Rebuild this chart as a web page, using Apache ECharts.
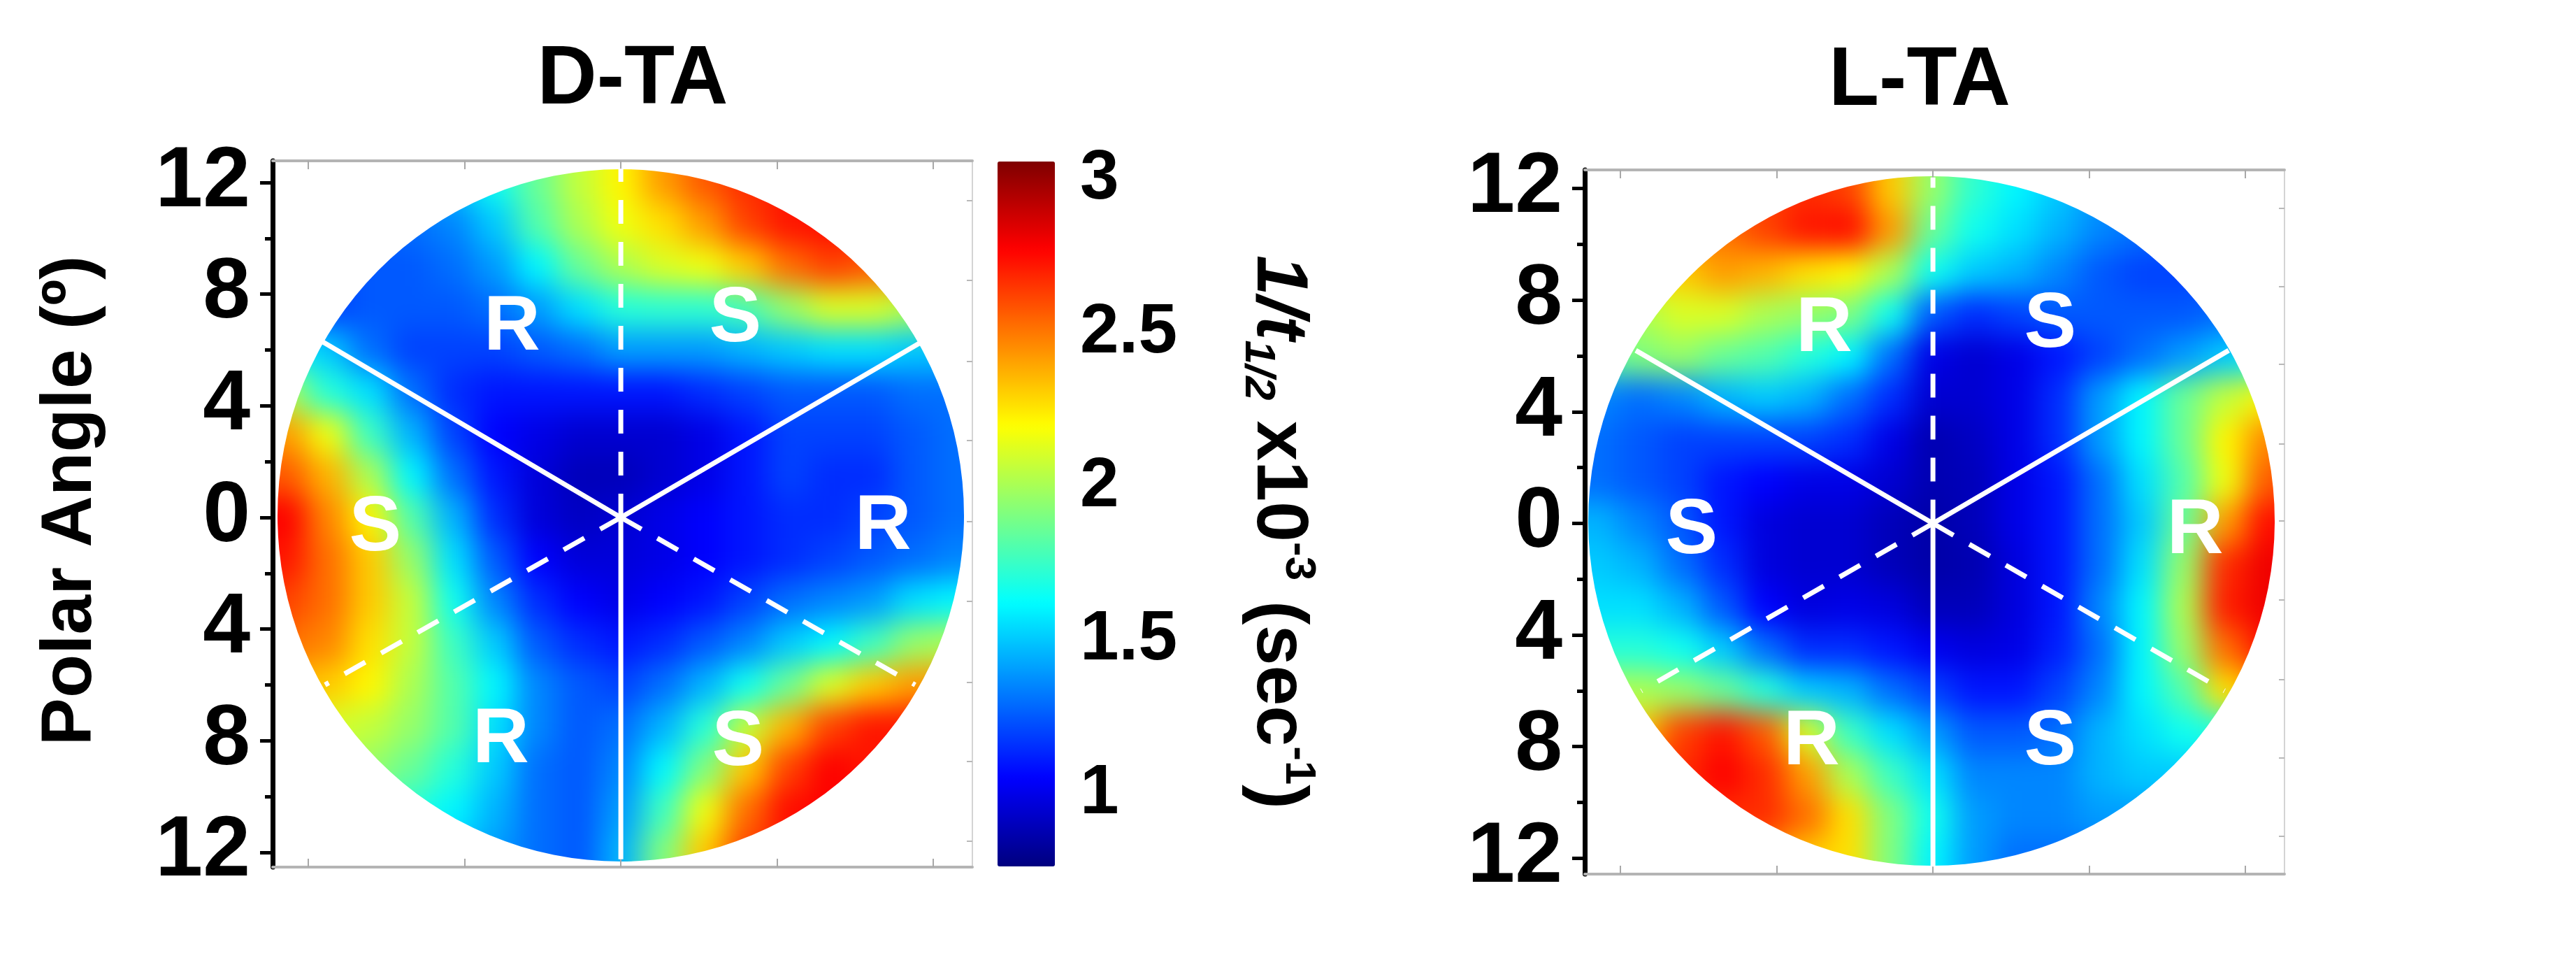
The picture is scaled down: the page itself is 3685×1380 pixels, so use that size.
<!DOCTYPE html>
<html>
<head>
<meta charset="utf-8">
<title>D-TA / L-TA</title>
<script src="https://cdn.jsdelivr.net/npm/echarts@6/dist/echarts.min.js"></script>
<style>
  html, body { margin: 0; background: #fff; }
  #heat, #chart { position: absolute; left: 0; top: 0; width: 3685px; height: 1380px; }
  /* heat cells are coarse, so soften them and cut the disc out */
  #heat {
    filter: blur(20px);
    clip-path: path('M397 737 A491 495 0 1 0 1379 737 A491 495 0 1 0 397 737 Z M2272 745 A491 493 0 1 0 3254 745 A491 493 0 1 0 2272 745 Z');
  }
</style>
</head>
<body>
<div id="heat"></div>
<div id="chart"></div>
<script>
// polar angle of the grid columns (left to right) and rows (top to bottom), degrees
const gridAngles = [-12, -10.5, -9, -7.5, -6, -4.5, -3, -1.5, 0, 1.5, 3, 4.5, 6, 7.5, 9, 10.5, 12]

const dtaRows = [
  [1.2, 1.2, 1.3, 1.4, 1.5, 1.65, 1.85, 2.05, 2.2, 2.4, 2.55, 2.65, 2.7, 2.7, 2.7, 2.7, 2.7],
  [1.2, 1.2, 1.25, 1.3, 1.35, 1.5, 1.8, 2.0, 2.15, 2.25, 2.4, 2.6, 2.7, 2.72, 2.7, 2.7, 2.7],
  [1.2, 1.2, 1.25, 1.25, 1.3, 1.4, 1.6, 1.85, 2.0, 2.1, 2.15, 2.3, 2.5, 2.6, 2.55, 2.5, 2.5],
  [1.2, 1.2, 1.25, 1.25, 1.25, 1.3, 1.4, 1.55, 1.7, 1.72, 1.72, 1.78, 1.95, 2.1, 2.1, 2.0, 2.0],
  [1.6, 1.5, 1.3, 1.2, 1.2, 1.2, 1.25, 1.3, 1.4, 1.4, 1.4, 1.45, 1.5, 1.55, 1.55, 1.5, 1.5],
  [2.0, 1.7, 1.55, 1.3, 1.15, 1.1, 1.1, 1.1, 1.1, 1.1, 1.15, 1.2, 1.25, 1.25, 1.25, 1.3, 1.3],
  [2.4, 2.15, 1.75, 1.45, 1.2, 1.05, 1.0, 0.95, 0.95, 0.95, 1.0, 1.1, 1.2, 1.2, 1.2, 1.25, 1.3],
  [2.55, 2.35, 2.0, 1.6, 1.3, 1.1, 0.97, 0.9, 0.9, 0.95, 1.0, 1.1, 1.2, 1.15, 1.15, 1.25, 1.3],
  [2.75, 2.45, 2.2, 1.8, 1.45, 1.15, 0.97, 0.92, 0.95, 1.0, 1.05, 1.1, 1.15, 1.15, 1.2, 1.25, 1.3],
  [2.7, 2.5, 2.3, 1.95, 1.55, 1.25, 1.05, 0.97, 0.97, 1.0, 1.05, 1.1, 1.15, 1.2, 1.25, 1.3, 1.35],
  [2.6, 2.5, 2.3, 2.05, 1.65, 1.35, 1.15, 1.05, 1.0, 1.05, 1.1, 1.2, 1.3, 1.35, 1.4, 1.55, 1.6],
  [2.5, 2.45, 2.25, 2.05, 1.75, 1.5, 1.25, 1.15, 1.1, 1.15, 1.25, 1.35, 1.5, 1.6, 1.75, 1.95, 2.0],
  [2.35, 2.3, 2.2, 2.0, 1.8, 1.6, 1.35, 1.25, 1.2, 1.3, 1.45, 1.65, 1.85, 2.1, 2.3, 2.4, 2.4],
  [2.1, 2.1, 2.05, 1.95, 1.8, 1.55, 1.35, 1.25, 1.3, 1.45, 1.7, 2.05, 2.35, 2.6, 2.7, 2.7, 2.7],
  [2.0, 2.0, 1.95, 1.85, 1.7, 1.5, 1.3, 1.25, 1.35, 1.6, 1.9, 2.3, 2.6, 2.75, 2.7, 2.7, 2.7],
  [1.9, 1.85, 1.8, 1.7, 1.6, 1.45, 1.3, 1.25, 1.4, 1.75, 2.15, 2.5, 2.72, 2.75, 2.7, 2.7, 2.7],
  [1.8, 1.75, 1.7, 1.6, 1.5, 1.4, 1.3, 1.25, 1.45, 1.9, 2.3, 2.6, 2.7, 2.7, 2.7, 2.7, 2.7]
]

const ltaRows = [
  [2.2, 2.3, 2.4, 2.5, 2.6, 2.65, 2.6, 2.3, 1.95, 1.72, 1.6, 1.5, 1.4, 1.35, 1.3, 1.3, 1.3],
  [2.3, 2.4, 2.45, 2.5, 2.6, 2.7, 2.72, 2.4, 1.85, 1.65, 1.55, 1.45, 1.35, 1.3, 1.25, 1.25, 1.25],
  [2.2, 2.25, 2.3, 2.4, 2.35, 2.25, 2.2, 2.0, 1.65, 1.5, 1.45, 1.35, 1.25, 1.2, 1.2, 1.2, 1.2],
  [2.0, 2.0, 2.1, 2.1, 2.0, 1.95, 1.9, 1.65, 1.25, 1.15, 1.2, 1.25, 1.25, 1.25, 1.25, 1.3, 1.3],
  [1.8, 1.9, 1.95, 1.85, 1.8, 1.7, 1.6, 1.3, 1.0, 0.95, 1.0, 1.1, 1.2, 1.3, 1.4, 1.5, 1.6],
  [1.35, 1.3, 1.35, 1.45, 1.5, 1.45, 1.3, 1.15, 0.95, 0.95, 1.0, 1.15, 1.4, 1.6, 1.85, 2.05, 2.2],
  [1.3, 1.25, 1.2, 1.2, 1.2, 1.2, 1.15, 1.0, 0.88, 0.92, 1.0, 1.15, 1.4, 1.6, 1.85, 2.2, 2.45],
  [1.3, 1.25, 1.2, 1.1, 1.05, 1.0, 1.0, 0.95, 0.88, 0.9, 1.0, 1.1, 1.3, 1.55, 1.8, 2.15, 2.55],
  [1.45, 1.35, 1.25, 1.1, 0.98, 0.95, 0.95, 0.9, 0.86, 0.9, 1.0, 1.1, 1.3, 1.5, 1.85, 2.4, 2.72],
  [1.5, 1.45, 1.3, 1.15, 0.98, 0.95, 0.95, 0.9, 0.86, 0.88, 0.98, 1.1, 1.3, 1.55, 1.95, 2.65, 2.78],
  [1.55, 1.55, 1.45, 1.25, 1.05, 0.98, 1.0, 0.98, 0.9, 0.9, 0.98, 1.1, 1.35, 1.6, 2.0, 2.68, 2.78],
  [1.7, 1.7, 1.65, 1.5, 1.3, 1.15, 1.15, 1.1, 1.02, 0.98, 1.0, 1.12, 1.3, 1.6, 1.95, 2.5, 2.72],
  [2.0, 2.0, 1.95, 1.85, 1.7, 1.5, 1.45, 1.3, 1.2, 1.1, 1.1, 1.2, 1.35, 1.6, 1.8, 2.25, 2.4],
  [2.3, 2.3, 2.6, 2.7, 2.55, 2.1, 1.75, 1.55, 1.4, 1.25, 1.25, 1.3, 1.45, 1.55, 1.65, 1.7, 1.7],
  [2.6, 2.6, 2.65, 2.75, 2.65, 2.4, 2.0, 1.75, 1.55, 1.35, 1.35, 1.35, 1.45, 1.5, 1.5, 1.5, 1.5],
  [2.65, 2.65, 2.65, 2.65, 2.65, 2.5, 2.25, 1.9, 1.65, 1.4, 1.35, 1.35, 1.4, 1.4, 1.4, 1.4, 1.4],
  [2.5, 2.5, 2.5, 2.5, 2.4, 2.3, 2.25, 1.9, 1.6, 1.4, 1.3, 1.3, 1.3, 1.3, 1.3, 1.3, 1.3]
]

const jetColors = ['#00007f', '#0000ff', '#007fff', '#00ffff', '#7fff7f', '#ffff00', '#ff7f00', '#ff0000', '#7f0000']
const colorMin = 0.77
const colorMax = 3.03
const colorTicks = [1, 1.5, 2, 2.5, 3]

const yMajorTicks = [-12, -8, -4, 0, 4, 8, 12]
const yMinorTicks = [-10, -6, -2, 2, 6, 10]
const xTicks = [-11.2, -5.6, 0, 5.6, 11.2]
const rightTicksD = [11.35, 8.5, 5.6, 2.75, -0.15, -3, -5.9, -8.75, -11.6]
const rightTicksL = [11.3, 8.5, 5.7, 2.85, 0.1, -2.75, -5.6, -8.4, -11.2]

// spoke ends and sector letters [x, y, letter]
const dtaSolid = [[-10.7, 6.3], [10.8, 6.3], [0, -12.25]]
const dtaDashed = [[0, 12.5], [-10.6, -6], [10.55, -6]]
const ltaSolid = [[-10.65, 6.2], [10.6, 6.2], [0, -12.3]]
const ltaDashed = [[0, 12.4], [-10.45, -6], [10.45, -6]]
const dtaLetters = [[-3.9, 6.8, 'R'], [4.1, 7.1, 'S'], [-8.8, -0.4, 'S'], [9.4, -0.35, 'R'], [-4.3, -8, 'R'], [4.2, -8.1, 'S']]
const ltaLetters = [[-3.9, 6.95, 'R'], [4.2, 7.1, 'S'], [-8.65, -0.3, 'S'], [9.4, -0.3, 'R'], [-4.35, -7.85, 'R'], [4.2, -7.85, 'S']]

const font = '"Liberation Sans", Arial, sans-serif'
const cell = 59.85 // 1.5 degrees at 39.9 px per degree
const span = 19 // grid plus a repeated edge row on each side, so blur does not fade at the disc rim

function heatData(rows) {
  const n = gridAngles.length
  const out = []
  for (let r = -1; r <= n; r++) {
    for (let c = -1; c <= n; c++) {
      const row = rows[Math.min(n - 1, Math.max(0, r))]
      out.push([c + 1, n - r, row[Math.min(n - 1, Math.max(0, c))]])
    }
  }
  return out
}

const indexCats = Array.from({ length: span }, (_, i) => i)
const heatPanels = [
  { cx: 888, cy: 740, rows: dtaRows },
  { cx: 2764, cy: 748.5, rows: ltaRows }
]

const heat = echarts.init(document.getElementById('heat'), null, { renderer: 'canvas' })
heat.setOption({
  animation: false,
  backgroundColor: '#fff',
  grid: heatPanels.map(p => ({
    left: p.cx - span * cell / 2,
    top: p.cy - span * cell / 2,
    width: span * cell,
    height: span * cell
  })),
  xAxis: heatPanels.map((p, i) => ({ type: 'category', gridIndex: i, data: indexCats, show: false })),
  yAxis: heatPanels.map((p, i) => ({ type: 'category', gridIndex: i, data: indexCats, show: false })),
  visualMap: { show: false, min: colorMin, max: colorMax, inRange: { color: jetColors } },
  series: heatPanels.map((p, i) => ({
    type: 'heatmap',
    xAxisIndex: i,
    yAxisIndex: i,
    data: heatData(p.rows),
    progressive: 0
  }))
})

// axes, spokes, letters and the colour bar sit on a transparent chart above the heat layer
const panels = [
  { left: 390, top: 230, width: 1001, height: 1010, xMin: -12.48, xMax: 12.6, yMin: -12.53, yMax: 12.78,
    solid: dtaSolid, dashed: dtaDashed, letters: dtaLetters, rightTicks: rightTicksD },
  { left: 2267, top: 243, width: 1001, height: 1007, xMin: -12.48, xMax: 12.6, yMin: -12.57, yMax: 12.67,
    solid: ltaSolid, dashed: ltaDashed, letters: ltaLetters, rightTicks: rightTicksL }
]

const grids = panels.map(p => ({ left: p.left, top: p.top, width: p.width, height: p.height }))
grids.push({ left: 1427, top: 231, width: 82, height: 1008 })

const xAxes = []
const yAxes = []
const series = []
panels.forEach((p, i) => {
  ;['bottom', 'top'].forEach(pos => {
    xAxes.push({
      type: 'value', gridIndex: i, position: pos, min: p.xMin, max: p.xMax,
      axisLine: { show: true, onZero: false, lineStyle: { color: '#b4b4b4', width: 4 } },
      axisTick: { show: true, inside: true, length: 12, customValues: xTicks, lineStyle: { color: '#a8a8a8', width: 2 } },
      axisLabel: { show: false },
      splitLine: { show: false }
    })
  })
  const base = { type: 'value', gridIndex: i, min: p.yMin, max: p.yMax, splitLine: { show: false } }
  const majorIdx = yAxes.length
  yAxes.push({
    ...base, position: 'left',
    axisLine: { show: true, onZero: false, lineStyle: { color: '#000', width: 7 } },
    axisTick: { show: true, length: 18, customValues: yMajorTicks, lineStyle: { color: '#000', width: 5 } },
    axisLabel: {
      show: true, customValues: yMajorTicks, margin: 32,
      formatter: v => String(Math.abs(v)),
      color: '#000', fontFamily: font, fontWeight: 'bold', fontSize: 122, padding: [0, 0, 20, 0]
    }
  })
  yAxes.push({
    ...base, position: 'left',
    axisLine: { show: false, onZero: false },
    axisTick: { show: true, length: 11, customValues: yMinorTicks, lineStyle: { color: '#000', width: 5 } },
    axisLabel: { show: false }
  })
  yAxes.push({
    ...base, position: 'right',
    axisLine: { show: true, onZero: false, lineStyle: { color: '#d4d4d4', width: 2 } },
    axisTick: { show: true, inside: true, length: 8, customValues: p.rightTicks, lineStyle: { color: '#b8b8b8', width: 2 } },
    axisLabel: { show: false }
  })
  const spoke = (end, dashed) => ({
    type: 'line', xAxisIndex: xAxes.length - 1, yAxisIndex: majorIdx,
    data: [[0, 0], end], symbol: 'none', silent: true,
    lineStyle: { color: '#fff', width: 7, type: dashed ? [34, 26] : 'solid' }
  })
  p.solid.forEach(end => series.push(spoke(end, false)))
  p.dashed.forEach(end => series.push(spoke(end, true)))
  series.push({
    type: 'scatter', xAxisIndex: xAxes.length - 1, yAxisIndex: majorIdx,
    data: p.letters, symbolSize: 1, silent: true,
    itemStyle: { color: 'transparent', opacity: 1 },
    label: {
      show: true, position: 'inside', formatter: d => d.value[2],
      color: '#fff', opacity: 1, fontFamily: font, fontWeight: 'bold', fontSize: 112
    }
  })
})

// colour bar: ticks on the real scale, labels on their own slightly tighter scale as in the original
xAxes.push({ type: 'value', gridIndex: 2, min: 0, max: 1, show: false })
yAxes.push({
  type: 'value', gridIndex: 2, position: 'right', min: colorMin, max: colorMax,
  axisLine: { show: false, onZero: false },
  axisTick: { show: true, inside: true, length: 12, customValues: colorTicks, lineStyle: { color: '#333', width: 2 } },
  axisLabel: { show: false },
  splitLine: { show: false }
})
yAxes.push({
  type: 'value', gridIndex: 2, position: 'right', min: 0.763, max: 3.059,
  axisLine: { show: false, onZero: false },
  axisTick: { show: false },
  axisLabel: {
    show: true, customValues: colorTicks, margin: 36, formatter: v => String(v),
    color: '#000', fontFamily: font, fontWeight: 'bold', fontSize: 100
  },
  splitLine: { show: false }
})

const chart = echarts.init(document.getElementById('chart'), null, { renderer: 'canvas' })
chart.setOption({
  animation: false,
  backgroundColor: 'transparent',
  title: [
    { text: 'D-TA', left: 900, top: 110, textAlign: 'center', textVerticalAlign: 'middle',
      textStyle: { color: '#000', fontFamily: font, fontWeight: 'bold', fontSize: 118 } },
    { text: 'L-TA', left: 2741, top: 112, textAlign: 'center', textVerticalAlign: 'middle',
      textStyle: { color: '#000', fontFamily: font, fontWeight: 'bold', fontSize: 118 } }
  ],
  grid: grids,
  xAxis: xAxes,
  yAxis: yAxes,
  visualMap: {
    type: 'continuous', seriesIndex: [], min: colorMin, max: colorMax,
    left: 1427, top: 231, itemWidth: 82, itemHeight: 1008, padding: 0,
    calculable: false, realtime: false, hoverLink: false, text: null,
    inRange: { color: jetColors }
  },
  series,
  graphic: [
    {
      type: 'text', x: 102, y: 716, rotation: Math.PI / 2,
      style: {
        text: 'Polar Angle (º)', fill: '#000', align: 'center', verticalAlign: 'middle',
        font: 'bold 102px ' + font
      }
    },
    {
      type: 'text', x: 1828, y: 761, rotation: -Math.PI / 2,
      style: {
        text: '{i|1/t}{s|1/2}{b| x10}{u|-3}{b| (sec}{u|-1}{b|)}',
        fill: '#000', align: 'center', verticalAlign: 'middle',
        font: 'bold 104px ' + font,
        rich: {
          i: { font: 'italic bold 104px ' + font, lineHeight: 120 },
          b: { font: 'bold 104px ' + font, lineHeight: 120 },
          s: { font: 'italic bold 62px ' + font, lineHeight: 120, verticalAlign: 'bottom' },
          u: { font: 'bold 62px ' + font, lineHeight: 120, verticalAlign: 'top' }
        }
      }
    }
  ]
})
</script>
</body>
</html>
